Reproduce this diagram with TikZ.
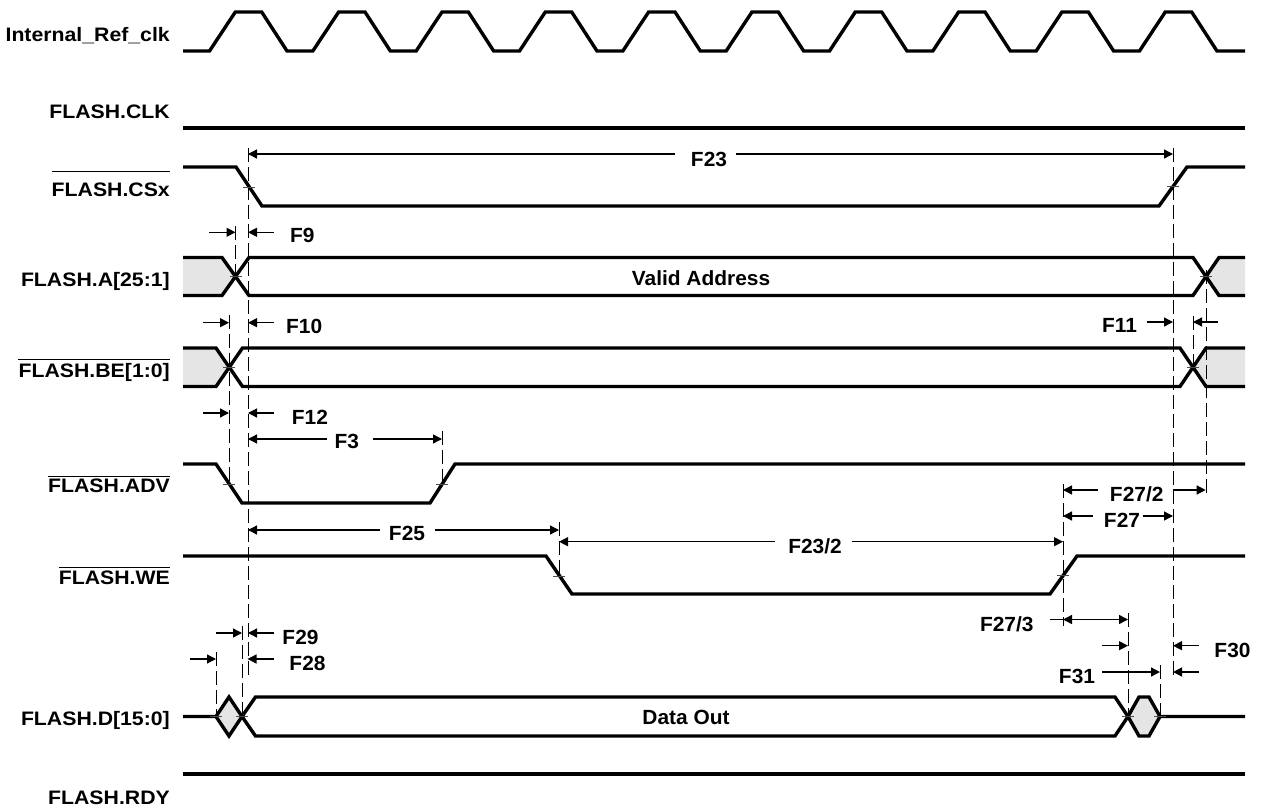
\documentclass[tikz,border=0pt]{standalone}
\usepackage{fontspec}
\setmainfont{Liberation Sans}
\newfontfamily\lblfam[FakeStretch=1.09]{Liberation Sans}
\newfontfamily\ffam[FakeStretch=1.02]{Liberation Sans}
\usetikzlibrary{arrows.meta}
\tikzset{
  sig/.style={line width=3.4pt},
  busfill/.style={fill=gray!20},
  dim/.style={line width=1.3pt,-{Triangle[length=9pt,width=9pt]}},
  plainl/.style={line width=1.3pt},
  guide/.style={line width=1pt,dash pattern=on 14pt off 5pt},
  xtick/.style={line width=0.8pt,black!70},
  lbl/.style={font=\lblfam\bfseries\fontsize{19.5}{21}\selectfont,anchor=base east,inner sep=0pt},
  flbl/.style={font=\ffam\bfseries\fontsize{20.5}{22}\selectfont,anchor=base,inner sep=0pt},
  ovl/.style={line width=1.2pt}
}
\begin{document}
\begin{tikzpicture}[x=1pt,y=-1pt]
\useasboundingbox (0,0) rectangle (1262,808);

% ---- signal labels
\node[lbl] (lclk) at (170,41.7) {Internal\_Ref\_clk};
\node[lbl] (lfclk) at (170,118.3) {FLASH.CLK};
\node[lbl] (lcs) at (170,196) {FLASH.CSx};
\node[lbl] (la) at (170,286) {FLASH.A[25:1]};
\node[lbl] (lbe) at (170,377.7) {FLASH.BE[1:0]};
\node[lbl] (ladv) at (170,492.7) {FLASH.ADV};
\node[lbl] (lwe) at (170,584) {FLASH.WE};
\node[lbl] (ld) at (170,725) {FLASH.D[15:0]};
\node[lbl] (lrdy) at (170,804) {FLASH.RDY};
\draw[ovl] ([yshift=11pt]lcs.north west) -- ([yshift=11pt]lcs.north east);
\draw[ovl] ([yshift=4pt]lbe.north west) -- ([yshift=4pt]lbe.north east);
\draw[ovl] ([yshift=2.5pt]ladv.north west) -- ([yshift=2.5pt]ladv.north east);
\draw[ovl] ([yshift=3pt]lwe.north west) -- ([yshift=3pt]lwe.north east);

% ---- clock
\draw[sig] (183,51) foreach \k in {0,...,9} {
  -- ({209.5+103.33*\k},51) -- ({235.3+103.33*\k},12)
  -- ({261.7+103.33*\k},12) -- ({287+103.33*\k},51) } -- (1245,51);

% ---- FLASH.CLK
\draw[sig] (183,128) -- (1245,128);

% ---- CSx
\draw[sig] (183,167) -- (236,167) -- (262,206) -- (1159,206) -- (1187,167) -- (1245,167);

% ---- Address bus
\fill[busfill] (183,257.5) -- (222,257.5) -- (235.5,276.5) -- (222,295.5) -- (183,295.5) -- cycle;
\fill[busfill] (1206,276.5) -- (1219,257.5) -- (1245,257.5) -- (1245,295.5) -- (1219,295.5) -- cycle;
\draw[sig] (183,257.5) -- (222,257.5) -- (249,295.5) -- (1193,295.5) -- (1219,257.5) -- (1245,257.5);
\draw[sig] (183,295.5) -- (222,295.5) -- (249,257.5) -- (1193,257.5) -- (1219,295.5) -- (1245,295.5);
\node[flbl] (va) at (701,285.7) {Valid Address};

% ---- BE bus
\fill[busfill] (183,348) -- (216,348) -- (229,367.25) -- (216,386.5) -- (183,386.5) -- cycle;
\fill[busfill] (1193,367.25) -- (1206,348) -- (1245,348) -- (1245,386.5) -- (1206,386.5) -- cycle;
\draw[sig] (183,348) -- (216,348) -- (242.5,386.5) -- (1180,386.5) -- (1206,348) -- (1245,348);
\draw[sig] (183,386.5) -- (216,386.5) -- (242.5,348) -- (1180,348) -- (1206,386.5) -- (1245,386.5);

% ---- ADV
\draw[sig] (183,464) -- (216,464) -- (242,503) -- (430,503) -- (455,464) -- (1245,464);

% ---- WE
\draw[sig] (183,556) -- (546,556) -- (572,594) -- (1050,594) -- (1077,556) -- (1245,556);

% ---- Data bus
\fill[busfill] (216,716.5) -- (229,697) -- (242,716.5) -- (229,736) -- cycle;
\fill[busfill] (1128,716.5) -- (1139,697) -- (1149,697) -- (1160,716.5) -- (1149,736) -- (1139,736) -- cycle;
\draw[sig] (183,716.5) -- (216,716.5) -- (229,697) -- (242,716.5) -- (255.5,736) -- (1115,736)
  -- (1128,716.5) -- (1139,697) -- (1149,697) -- (1160,716.5) -- (1245,716.5);
\draw[sig] (216,716.5) -- (229,736) -- (242,716.5) -- (255.5,697) -- (1115,697)
  -- (1128,716.5) -- (1139,736) -- (1149,736) -- (1160,716.5);
\node[flbl] (dout) at (686,724) {Data Out};

% ---- RDY
\draw[sig] (183,774) -- (1245,774);

% ---- guide lines
\draw[guide] (248,148) -- (248,679);
\draw[guide] (235.5,226) -- (235.5,277);
\draw[guide] (229,315) -- (229,484);
\draw[guide] (442,431) -- (442,485);
\draw[guide] (559,522) -- (559,577);
\draw[guide] (1063,484) -- (1063,626);
\draw[guide] (1173,148) -- (1173,676);
\draw[guide] (1206,270) -- (1206,497);
\draw[guide] (1193,316) -- (1193,368);
\draw[guide] (1128,613) -- (1128,716);
\draw[guide] (1160,665) -- (1160,716);
\draw[guide] (216,652) -- (216,716);
\draw[guide] (242,626) -- (242,716);

% ---- crossing ticks
\foreach \px/\py in {249/187, 235.5/276.5, 229/367.25, 229/484, 442/484, 559/576, 1063/575,
  1173/186.5, 1206/276.5, 1193/367.25, 1128/716.5, 1160/716.5, 216/716.5, 242/716.5}
  \draw[xtick] (\px-6,\py) -- (\px+6,\py);

% ---- dimension arrows and labels
\draw[dim] (675,154) -- (248,154);
\draw[dim] (736,154) -- (1173,154);
\node[flbl] (f23) at (709,166) {F23};

\draw[dim] (209,232.3) -- (235.5,232.3);
\draw[dim] (274,232.3) -- (248,232.3);
\node[flbl,anchor=base west] (f9) at (290,242.7) {F9};

\draw[dim] (203,322.7) -- (229,322.7);
\draw[dim] (274,322.7) -- (248,322.7);
\node[flbl,anchor=base west] (f10) at (286,333.3) {F10};

\draw[dim] (1146.7,322) -- (1173,322);
\draw[dim] (1218,322) -- (1193,322);
\node[flbl] (f11) at (1119.5,332.3) {F11};

\draw[dim] (203,413) -- (229,413);
\draw[dim] (274,413) -- (248,413);
\node[flbl,anchor=base west] (f12) at (291.7,424) {F12};

\draw[dim] (326.7,439) -- (248,439);
\draw[dim] (372.7,439) -- (442,439);
\node[flbl] (f3) at (346.7,448.3) {F3};

\draw[dim] (380,530) -- (248,530);
\draw[dim] (435,530) -- (559,530);
\node[flbl] (f25) at (407,540.7) {F25};

\draw[dim] (775,541.7) -- (559,541.7);
\draw[dim] (851.7,541.7) -- (1063,541.7);
\node[flbl] (f232) at (815,553.3) {F23/2};

\draw[dim] (1098,490) -- (1063,490);
\draw[dim] (1173,490) -- (1205.7,490);
\node[flbl] (f272) at (1136.7,501.7) {F27/2};

\draw[dim] (1093,516) -- (1063,516);
\draw[dim] (1143,516) -- (1173,516);
\node[flbl] (f27) at (1122,527.7) {F27};

\draw[plainl] (1050,619.5) -- (1063,619.5);
\draw[dim] (1095,619.5) -- (1063,619.5);
\draw[dim] (1095,619.5) -- (1128,619.5);
\node[flbl] (f273) at (1006.8,631.7) {F27/3};

\draw[dim] (1199,645.7) -- (1173,645.7);
\draw[dim] (1199,672) -- (1173,672);
\node[flbl] (f30) at (1232.5,657.3) {F30};

\draw[dim] (1102,645.7) -- (1128,645.7);
\draw[dim] (1102,672) -- (1160,672);
\node[flbl] (f31) at (1077,683.3) {F31};

\draw[dim] (216,633) -- (242,633);
\draw[dim] (274,633) -- (248,633);
\node[flbl] (f29) at (300.5,644.3) {F29};

\draw[dim] (190,659) -- (216,659);
\draw[dim] (274,659) -- (247.5,659);
\node[flbl] (f28) at (307.5,670) {F28};
\end{tikzpicture}
\end{document}
